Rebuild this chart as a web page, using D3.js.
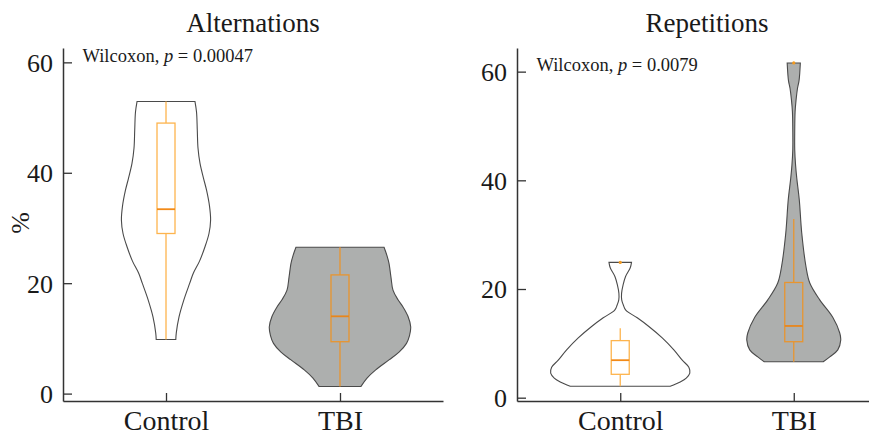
<!DOCTYPE html>
<html>
<head>
<meta charset="utf-8">
<script src="https://cdn.jsdelivr.net/npm/d3@7/dist/d3.min.js"></script>
<style>
  html, body { margin: 0; padding: 0; background: #fff; }
  svg { display: block; }
  text { font-family: "Liberation Serif", "Times New Roman", serif; fill: #1a1a1a; }
</style>
</head>
<body>
<svg id="chart" width="869" height="435"></svg>
<script>
// ---- data ----------------------------------------------------------------
const groups = ["Control", "TBI"];
const panelTitles = ["Alternations", "Repetitions"];
const pValues = ["0.00047", "0.0079"];
const yTicks = [0, 20, 40, 60];

// violin outlines: value levels (%) and relative density at each level
const altControlLevels  = [52.9, 51.0, 47.7, 44.5, 41.7, 39.0, 36.8, 34.0, 31.4, 29.0, 26.6, 24.0, 21.8, 20.0, 16.9, 13.9, 11.0, 9.8];
const altControlDensity = [0.414, 0.436, 0.447, 0.457, 0.486, 0.536, 0.580, 0.621, 0.637, 0.614, 0.557, 0.479, 0.390, 0.339, 0.253, 0.186, 0.147, 0.140];

const altTbiLevels  = [26.5, 25.0, 23.6, 21.0, 18.75, 17.0, 15.7, 14.0, 12.1, 10.5, 9.1, 7.5, 6.1, 4.3, 2.8, 1.3];
const altTbiDensity = [0.629, 0.671, 0.700, 0.729, 0.757, 0.829, 0.900, 0.971, 1.010, 0.993, 0.950, 0.843, 0.700, 0.510, 0.386, 0.300];

const repControlLevels  = [24.9, 23.9, 22.3, 20.7, 19.2, 18.0, 17.1, 16.1, 14.7, 13.1, 11.0, 8.8, 6.9, 5.6, 4.5, 3.6, 2.9, 2.1];
const repControlDensity = [0.161, 0.143, 0.076, 0.040, 0.019, 0.021, 0.043, 0.079, 0.243, 0.409, 0.600, 0.766, 0.886, 0.980, 0.994, 0.943, 0.857, 0.714];

const repTbiLevels  = [61.6, 58.4, 56.9, 54.8, 52.6, 49.3, 45.6, 42.8, 40.4, 36.4, 30.3, 24.0, 21.1, 18.0, 14.8, 11.9, 10.6, 8.8, 7.5, 6.6];
const repTbiDensity = [0.094, 0.076, 0.053, 0.033, 0.019, 0.014, 0.014, 0.026, 0.043, 0.079, 0.114, 0.176, 0.229, 0.371, 0.557, 0.657, 0.671, 0.629, 0.514, 0.421];

// box plot summaries: [lower whisker, Q1, median, Q3, upper whisker]
const altControlBox = [9.8, 29.0, 33.4, 49.0, 52.9];
const altTbiBox     = [1.3, 9.4, 14.0, 21.5, 26.5];
const repControlBox = [2.1, 4.3, 6.9, 10.5, 12.8];
const repTbiBox     = [6.6, 10.3, 13.2, 21.2, 32.9];

// outlying points beyond the whiskers
const repControlOutliers = [24.9];
const repTbiOutliers     = [61.6];

// ---- drawing --------------------------------------------------------------
const svg = d3.select("#chart");

const panels = [
  {
    title: panelTitles[0], p: pValues[0], yDomain: [-1.34, 62.6],
    x0: 63, x1: 443, pad: 0.592,
    violins: [
      { g: groups[0], levels: altControlLevels, density: altControlDensity, box: altControlBox, out: [] },
      { g: groups[1], levels: altTbiLevels, density: altTbiDensity, box: altTbiBox, out: [] }
    ]
  },
  {
    title: panelTitles[1], p: pValues[1], yDomain: [-0.61, 64.35],
    x0: 517, x1: 897, pad: 0.595,
    violins: [
      { g: groups[0], levels: repControlLevels, density: repControlDensity, box: repControlBox, out: repControlOutliers },
      { g: groups[1], levels: repTbiLevels, density: repTbiDensity, box: repTbiBox, out: repTbiOutliers }
    ]
  }
];

const plotTop = 48, plotBottom = 401;
const widthScale = d3.scaleLinear().domain([0, 1]).range([0, 70]);
const boxHalf = 9;

const fills = { Control: "#ffffff", TBI: "#adafae" };
const boxColor = { Control: "#fdb44e", TBI: "#e8952f" };
const medColor = { Control: "#f28a18", TBI: "#e8861c" };

panels.forEach(pn => {
  const y = d3.scaleLinear().domain(pn.yDomain).range([plotBottom, plotTop]);
  const x = d3.scalePoint().domain(groups).range([pn.x0, pn.x1]).padding(pn.pad);
  const g = svg.append("g");

  // violins
  pn.violins.forEach(v => {
    const cx = x(v.g);
    const pts = v.levels.map((lv, i) => ({ v: lv, d: v.density[i] }));
    const area = d3.area()
      .y(d => y(d.v))
      .x0(d => cx - widthScale(d.d))
      .x1(d => cx + widthScale(d.d))
      .curve(d3.curveCatmullRom.alpha(0.5));
    g.append("path")
      .attr("d", area(pts))
      .attr("fill", fills[v.g])
      .attr("stroke", "#4a4a4a")
      .attr("stroke-width", 1.1);
  });

  // boxes
  pn.violins.forEach(v => {
    const cx = x(v.g);
    const [lo, q1, med, q3, hi] = v.box;
    const c = boxColor[v.g];
    const bg = g.append("g");
    bg.append("line").attr("x1", cx).attr("x2", cx).attr("y1", y(hi)).attr("y2", y(q3))
      .attr("stroke", c).attr("stroke-width", 1.3);
    bg.append("line").attr("x1", cx).attr("x2", cx).attr("y1", y(q1)).attr("y2", y(lo))
      .attr("stroke", c).attr("stroke-width", 1.3);
    bg.append("rect").attr("x", cx - boxHalf).attr("width", boxHalf * 2)
      .attr("y", y(q3)).attr("height", y(q1) - y(q3))
      .attr("fill", "none").attr("stroke", c).attr("stroke-width", 1.3);
    bg.append("line").attr("x1", cx - boxHalf).attr("x2", cx + boxHalf)
      .attr("y1", y(med)).attr("y2", y(med))
      .attr("stroke", medColor[v.g]).attr("stroke-width", 1.8);
    bg.selectAll("circle").data(v.out).join("circle")
      .attr("cx", cx).attr("cy", d => y(d)).attr("r", 1.6)
      .attr("fill", "#f39a1e");
  });

  // y axis with inward ticks
  const ya = g.append("g").attr("transform", `translate(${pn.x0},0)`)
    .call(d3.axisLeft(y).tickValues(yTicks).tickSizeInner(-9).tickSizeOuter(0).tickPadding(10));
  // x axis with inward ticks
  const xa = g.append("g").attr("transform", `translate(0,${plotBottom})`)
    .call(d3.axisBottom(x).tickSizeInner(-8).tickSizeOuter(0).tickPadding(10));

  [ya, xa].forEach(a => {
    a.select(".domain").attr("stroke", "#333").attr("stroke-width", 1.5);
    a.selectAll(".tick line").attr("stroke", "#333").attr("stroke-width", 1.3);
    a.selectAll("text").attr("font-family", "Liberation Serif").attr("fill", "#1a1a1a");
  });
  ya.selectAll("text").attr("font-size", 26).attr("dy", "0.34em");
  xa.selectAll("text").attr("font-size", 28).attr("dy", 0).attr("y", 29);

  // title
  g.append("text")
    .attr("x", (pn.x0 + pn.x1) / 2).attr("y", 32)
    .attr("text-anchor", "middle").attr("font-size", 27)
    .text(pn.title);

  // test annotation
  const t = g.append("text")
    .attr("x", pn.x0 + 19.5).attr("y", y(60.1))
    .attr("font-size", 18.5);
  t.append("tspan").text("Wilcoxon, ");
  t.append("tspan").attr("font-style", "italic").text("p");
  t.append("tspan").text(" = " + pn.p);
});

// y axis title
svg.append("text")
  .attr("transform", "translate(29,223) rotate(-90)")
  .attr("text-anchor", "middle").attr("font-size", 26)
  .text("%");
</script>
</body>
</html>
